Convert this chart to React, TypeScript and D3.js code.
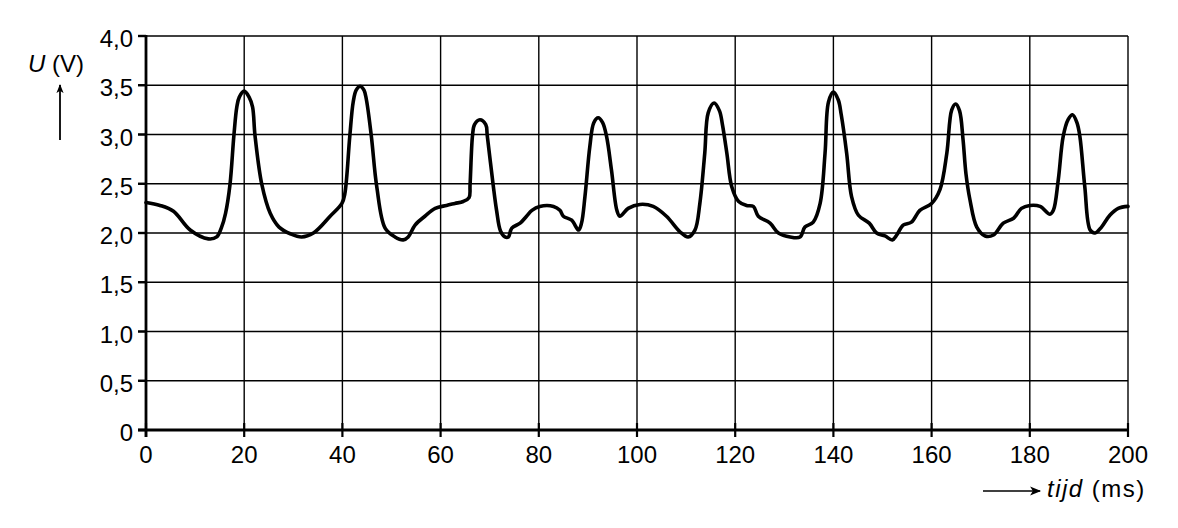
import React from "react";
import * as d3 from "d3";

const timeMs = [0, 2.85, 5.6, 9.0, 12.7, 14.4, 15.4, 16.2, 17.1, 17.9, 18.5, 19.0, 20.0, 21.0, 21.7, 22.2, 23.6, 25.3, 27.1, 29.5, 31.7, 34.1, 37.5, 39.9, 40.5, 41.5, 42.2, 42.8, 43.6, 44.4, 44.9, 45.9, 47.0, 48.7, 50.7, 52.4, 53.4, 54.8, 56.8, 58.9, 61.2, 62.9, 64.6, 65.8, 66.0, 66.5, 66.9, 68.0, 69.2, 69.5, 70.7, 71.4, 72.2, 73.1, 73.8, 74.5, 76.2, 77.5, 78.6, 80.2, 83.0, 84.3, 85.0, 86.7, 88.1, 88.7, 89.4, 90.4, 91.2, 92.1, 93.0, 93.8, 94.8, 95.9, 96.5, 98.2, 100.6, 103.3, 106.0, 108.8, 110.4, 111.8, 112.8, 113.8, 114.5, 115.7, 116.8, 117.4, 118.3, 119.3, 120.7, 122.3, 123.7, 124.7, 127.1, 128.8, 131.2, 133.2, 134.2, 135.9, 137.3, 138.3, 139.0, 140.0, 141.0, 141.6, 142.7, 143.7, 145.1, 147.3, 148.8, 150.5, 152.0, 152.9, 154.2, 155.9, 157.6, 160.0, 161.7, 163.1, 164.1, 164.9, 165.7, 166.4, 167.0, 167.8, 169.2, 170.9, 172.6, 174.6, 176.7, 178.3, 180.0, 182.1, 184.1, 184.8, 185.8, 186.8, 187.8, 188.7, 189.6, 190.2, 191.2, 192.3, 193.3, 194.6, 196.3, 198.0, 200];
const voltage = [2.31, 2.28, 2.22, 2.03, 1.94, 1.96, 2.06, 2.20, 2.49, 2.99, 3.28, 3.38, 3.44, 3.38, 3.28, 2.99, 2.49, 2.20, 2.06, 1.99, 1.96, 2.0, 2.17, 2.30, 2.40, 2.98, 3.33, 3.45, 3.49, 3.45, 3.35, 2.98, 2.47, 2.05, 1.96, 1.93, 1.96, 2.08, 2.17, 2.25, 2.28, 2.30, 2.32, 2.36, 2.49, 2.99, 3.10, 3.15, 3.10, 2.99, 2.49, 2.23, 2.02, 1.96, 1.96, 2.05, 2.10, 2.17, 2.23, 2.27, 2.27, 2.23, 2.17, 2.13, 2.03, 2.10, 2.37, 2.88, 3.12, 3.17, 3.12, 2.98, 2.64, 2.23, 2.17, 2.25, 2.29, 2.27, 2.17, 2.01, 1.96, 2.03, 2.30, 2.81, 3.22, 3.32, 3.24, 3.10, 2.81, 2.47, 2.32, 2.28, 2.27, 2.17, 2.10, 2.0, 1.96, 1.96, 2.06, 2.11, 2.30, 2.81, 3.33, 3.43, 3.35, 3.20, 2.81, 2.37, 2.18, 2.10, 2.0, 1.97, 1.93, 1.98, 2.08, 2.11, 2.23, 2.30, 2.44, 2.81, 3.25, 3.31, 3.24, 2.95, 2.60, 2.34, 2.06, 1.97, 1.98, 2.10, 2.15, 2.25, 2.28, 2.27, 2.19, 2.23, 2.54, 2.98, 3.15, 3.20, 3.12, 2.98, 2.47, 2.03, 2.0, 2.06, 2.18, 2.25, 2.27];

const xTicks = [0, 20, 40, 60, 80, 100, 120, 140, 160, 180, 200];
const yTicks = [0, 0.5, 1.0, 1.5, 2.0, 2.5, 3.0, 3.5, 4.0];
const yTickLabels = ["0", "0,5", "1,0", "1,5", "2,0", "2,5", "3,0", "3,5", "4,0"];

const W = 1178;
const H = 528;
const FONT = "'Liberation Sans', Arial, sans-serif";

export default function App() {
  const x = d3.scaleLinear().domain([0, 200]).range([146, 1128]);
  const y = d3.scaleLinear().domain([0, 4]).range([430, 36]);
  const pts: [number, number][] = timeMs.map((t, i) => [t, voltage[i]]);
  const line = d3
    .line<[number, number]>()
    .x((d) => x(d[0]))
    .y((d) => y(d[1]))
    .curve(d3.curveCatmullRom.alpha(0.5));

  return (
    <svg width={W} height={H} style={{ position: "absolute", left: 0, top: 0, background: "#fff" }}>
      <defs>
        <marker id="ah" viewBox="0 0 10 10" refX="9" refY="5" markerWidth="9" markerHeight="13" markerUnits="userSpaceOnUse" orient="auto">
          <path d="M0,1 L10,5 L0,9 L2.5,5 z" fill="#000" />
        </marker>
        <marker id="ah2" viewBox="0 0 10 10" refX="9" refY="5" markerWidth="14" markerHeight="11" markerUnits="userSpaceOnUse" orient="auto">
          <path d="M0,1 L10,5 L0,9 L2.5,5 z" fill="#000" />
        </marker>
      </defs>
      <rect x={0} y={0} width={W} height={H} fill="#fff" />
      {yTicks.map((v, i) => (
        <g key={"y" + i}>
          {i > 0 && (
            <line x1={138} x2={x(200)} y1={y(v)} y2={y(v)} stroke="#000" strokeWidth={1.4} />
          )}
          <line x1={138} x2={146} y1={y(v)} y2={y(v)} stroke="#000" strokeWidth={2.4} />
          <text x={133} y={y(v) + 11} textAnchor="end" fontFamily={FONT} fontSize={24} fill="#000">
            {yTickLabels[i]}
          </text>
        </g>
      ))}
      {xTicks.map((v, i) => (
        <g key={"x" + i}>
          {i > 0 && (
            <line x1={x(v)} x2={x(v)} y1={y(4)} y2={y(0)} stroke="#000" strokeWidth={1.4} />
          )}
          <line x1={x(v)} x2={x(v)} y1={423} y2={437} stroke="#000" strokeWidth={2.2} />
          <text x={x(v)} y={463} textAnchor="middle" fontFamily={FONT} fontSize={24} fill="#000">
            {v}
          </text>
        </g>
      ))}
      <line x1={x(0)} x2={x(0)} y1={y(4) - 1} y2={437} stroke="#000" strokeWidth={2.8} />
      <line x1={138} x2={x(200)} y1={y(0)} y2={y(0)} stroke="#000" strokeWidth={2.8} />
      <path d={line(pts) || ""} fill="none" stroke="#000" strokeWidth={3.6} strokeLinejoin="round" strokeLinecap="round" />
      <text x={28} y={72} fontFamily={FONT} fontSize={24} fill="#000">
        <tspan fontStyle="italic">U</tspan>
        <tspan> (V)</tspan>
      </text>
      <line x1={60} x2={60} y1={140} y2={85} stroke="#000" strokeWidth={1.8} markerEnd="url(#ah)" />
      <line x1={983} x2={1040} y1={491} y2={491} stroke="#000" strokeWidth={1.5} markerEnd="url(#ah2)" />
      <text x={1047} y={497} fontFamily={FONT} fontSize={24} fill="#000" letterSpacing={1.5}>
        <tspan fontStyle="italic">tijd</tspan>
        <tspan> (ms)</tspan>
      </text>
    </svg>
  );
}
